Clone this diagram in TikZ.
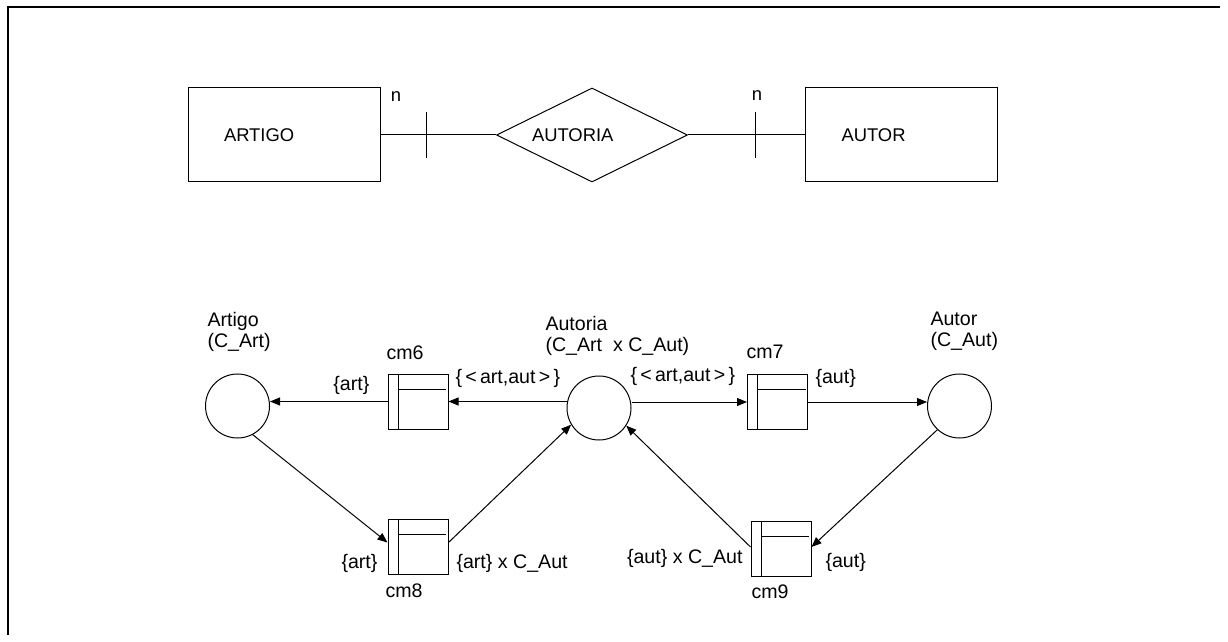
\documentclass[tikz,border=0pt]{standalone}
\usepackage{fontspec}
\setmainfont{Liberation Sans}
\usetikzlibrary{arrows.meta,positioning,shapes.geometric,calc}
\tikzset{
  entity/.style={draw,minimum height=47pt,text width=60pt,inner xsep=18pt,%
    inner ysep=0pt,align=left,font=\fontsize{9.2}{11}\selectfont},
  relship/.style={draw,diamond,aspect=2,minimum width=95.5pt,minimum height=47pt,%
    inner sep=0pt,text width=60pt,align=left,font=\fontsize{9.2}{11}\selectfont},
  card/.style={inner sep=0pt,font=\fontsize{9.2}{11}\selectfont},
  place/.style={draw,circle,minimum size=32pt,inner sep=0pt},
  trans/.style={draw,minimum width=30pt,minimum height=27.5pt,inner sep=0pt,%
    path picture={
      \draw ([xshift=5pt]path picture bounding box.north west)
        -- ([xshift=5pt]path picture bounding box.south west);
      \draw ([shift={(5pt,-7.5pt)}]path picture bounding box.north west)
        -- ([shift={(-1pt,-7.5pt)}]path picture bounding box.north east);}},
  lbl/.style={inner sep=0pt,anchor=west,align=left,font=\fontsize{9.8}{10.5}\selectfont},
  flow/.style={-{Triangle[length=5pt,width=4pt]}},
}
\begin{document}
\begin{tikzpicture}[x=0.5pt,y=-0.5pt,line width=0.5pt]
\useasboundingbox (0,0) rectangle (1228,642);
\draw[line width=0.8pt] (1220,7) -- (8,7) -- (8,635);
% entity-relationship part
\node[entity] (eArtigo) at (284,135) {ARTIGO};
\node[relship] (rAutoria) at (592,135) {AUTORIA};
\node[entity] (eAutor) at (901.5,135) {AUTOR};
\draw (eArtigo) -- coordinate[pos=0.4] (t1) (rAutoria);
\draw (rAutoria) -- coordinate[pos=0.576] (t2) (eAutor);
\draw ([yshift=11.5pt]t1) -- ([yshift=-11.5pt]t1);
\draw ([yshift=11.5pt]t2) -- ([yshift=-11.5pt]t2);
\node[card] at (396,97) {n};
\node[card] at (757,96) {n};
% net part
\node[place] (pArtigo) at (237.5,406) {};
\node[place] (pAutoria) at (599,408) {};
\node[place] (pAutor) at (959.5,406) {};
\node[trans] (cm6) at (418,401.5) {};
\node[trans] (cm7) at (777.5,402) {};
\node[trans] (cm8) at (418,546.5) {};
\node[trans] (cm9) at (781,549) {};
\node[lbl] at (207,332) {Artigo\\(C\_Art)};
\node[lbl] at (545,335.5) {Autoria\\(C\_Art\ \ x C\_Aut)};
\node[lbl] at (930,331) {Autor\\(C\_Aut)};
\node[lbl] at (386,353) {cm6};
\node[lbl] at (746,352) {cm7};
\node[lbl] at (385,591) {cm8};
\node[lbl] at (751,592) {cm9};
\draw[flow] (cm6.west) -- node[lbl,anchor=south east,pos=0.15,yshift=3pt]{\{art\}} (cm6.west -| pArtigo.east);
\draw[flow] (cm6.east -| pAutoria.west) -- (cm6.east);
\draw[flow] (cm7.west -| pAutoria.east) -- (cm7.west);
\draw[flow] (cm7.east) -- (cm7.east -| pAutor.west);
\draw[flow] (pArtigo.-62) -- ([yshift=2pt]cm8.west);
\draw[flow] ([yshift=2pt]cm8.east) -- (pAutoria.211);
\draw[flow] (pAutor.227) -- ([yshift=1pt]cm9.east);
\draw[flow] ([yshift=1pt]cm9.west) -- (pAutoria.-33);
\node[lbl] at (455,378) {\{\,<\,art,aut\,>\,\}};
\node[lbl] at (630,376) {\{\,<\,art,aut\,>\,\}};
\node[lbl] at (815,378) {\{aut\}};
\node[lbl] at (341,563) {\{art\}};
\node[lbl] at (456,563) {\{art\} x C\_Aut};
\node[lbl,anchor=east] at (743,558) {\{aut\} x C\_Aut};
\node[lbl] at (825,562) {\{aut\}};
\end{tikzpicture}
\end{document}
